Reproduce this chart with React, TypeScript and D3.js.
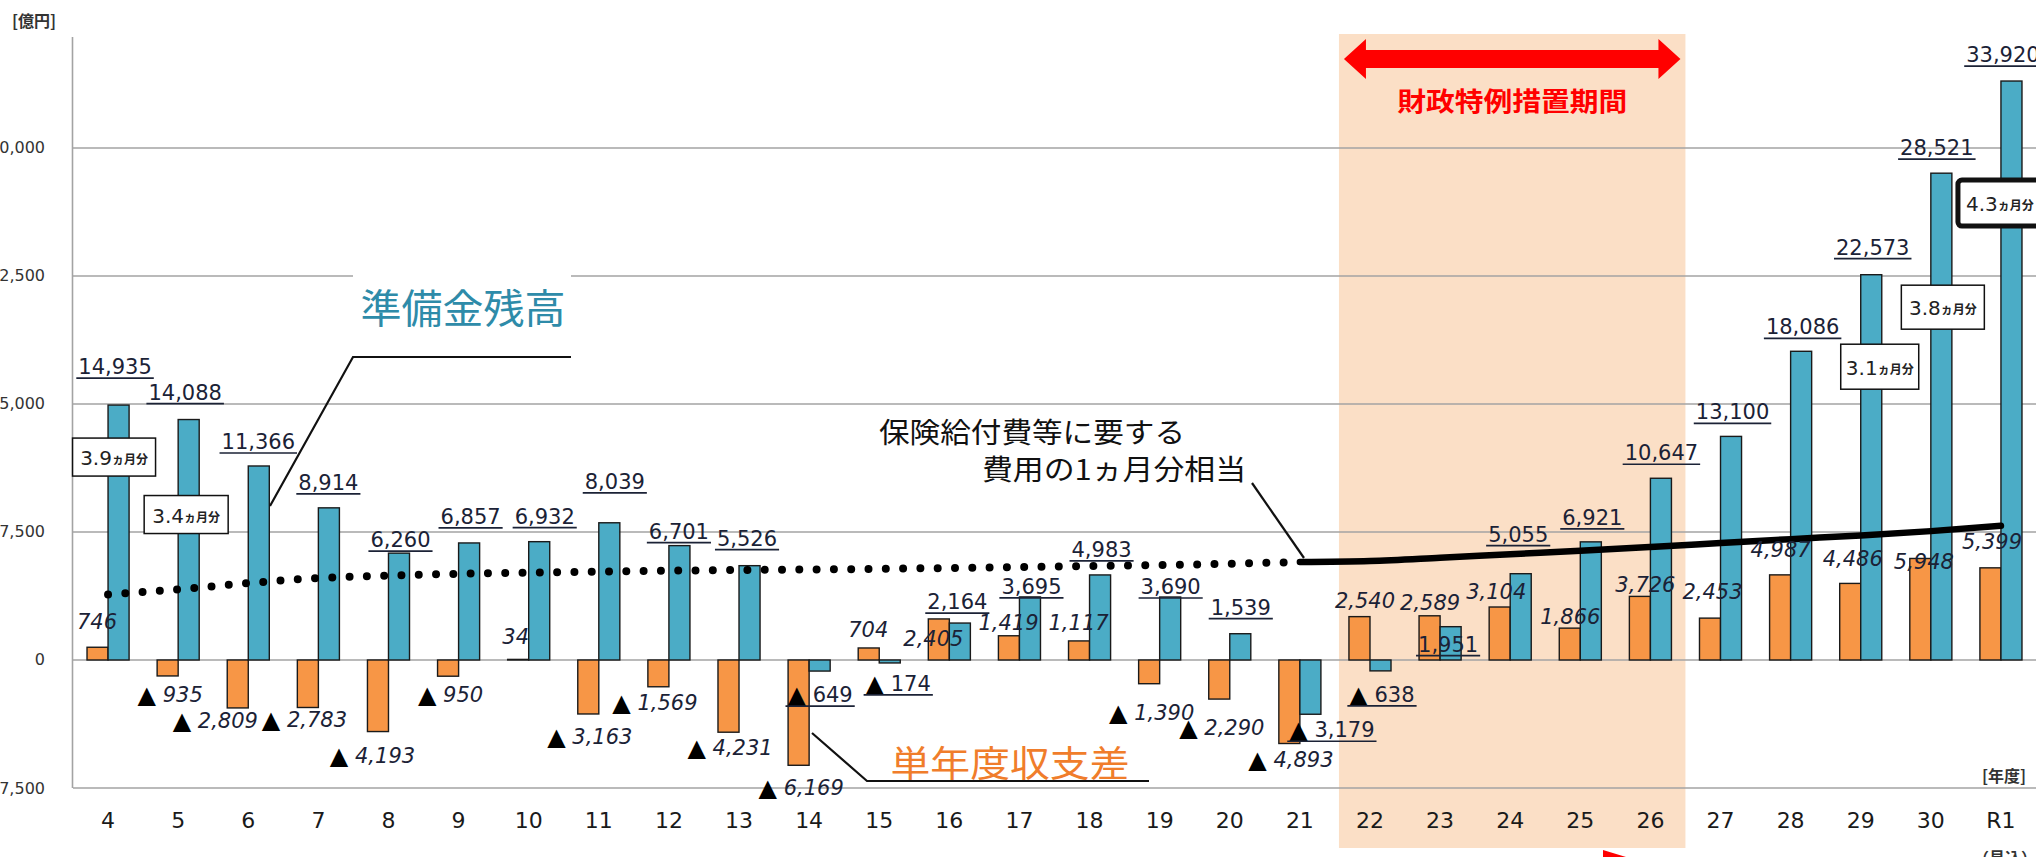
import React, { useEffect, useRef } from "react";
import * as d3 from "d3";

const years = ["4", "5", "6", "7", "8", "9", "10", "11", "12", "13", "14", "15", "16", "17", "18", "19", "20", "21", "22", "23", "24", "25", "26", "27", "28", "29", "30", "R1"];

// 準備金残高 [億円]
const reserve = [14935, 14088, 11366, 8914, 6260, 6857, 6932, 8039, 6701, 5526, -649, -174, 2164, 3695, 4983, 3690, 1539, -3179, -638, 1951, 5055, 6921, 10647, 13100, 18086, 22573, 28521, 33920];

// 単年度収支差 [億円]
const balance = [746, -935, -2809, -2783, -4193, -950, 34, -3163, -1569, -4231, -6169, 704, 2405, 1419, 1117, -1390, -2290, -4893, 2540, 2589, 3104, 1866, 3726, 2453, 4987, 4486, 5948, 5399];

// 保険給付費等に要する費用の1ヵ月分相当
const oneMonth = [3830, 4140, 4500, 4800, 4950, 5050, 5120, 5180, 5230, 5270, 5300, 5340, 5390, 5440, 5500, 5560, 5640, 5740, 5800, 5990, 6200, 6400, 6620, 6850, 7080, 7300, 7550, 7860];

const yTicks = [-7500, 0, 7500, 15000, 22500, 30000];
const specialFrom = "22";
const specialTo = "26";

const boxYears = ["4", "5", "29", "30", "R1"];
const boxMonths = ["3.9", "3.4", "3.1", "3.8", "4.3"];

// label placement, [dx, dy] from the end of each bar (px)
const reserveLabelOffset = [
  [7, -38], [7, -27], [10, -24], [10, -25], [12, -13], [12, -26], [16, -25], [16, -41], [10, -14], [8, -27],
  [11, 24], [19, 21], [8, -21], [12, -10], [12, -25], [11, -10], [11, -26], [32, 16], [12, 24], [8, 18],
  [8, -39], [12, -24], [11, -25], [12, -24], [12, -24], [12, -27], [6, -25], [2, -26],
];
const balanceLabelOffset = [
  [-11, -25], [-8, 19], [-33, 13], [-14, 13], [-16, 24], [-8, 19], [-13, -22], [-9, 23], [-14, 16], [-9, 16],
  [-8, 23], [-11, -18], [-16, 20], [-11, -13], [-11, -18], [-8, 29], [-8, 29], [-9, 16], [-5, -16], [-10, -13],
  [-14, -15], [-10, -11], [-5, -11], [-8, -26], [-10, -25], [-8, -24], [-7, 4], [-9, -26],
];
// box placement [dx, dy from bar top, width, height]
const boxLayout = [[6, 52, 83, 38], [8, 95, 84, 38], [19, 92, 78, 45], [12, 134, 83, 44], [-1, 122, 84, 46]];

const NUM_FONT = "'DejaVu Sans', sans-serif";
const JP_FONT = "'Noto Sans CJK JP', sans-serif";
const INK = "#1b2236";

export default function App() {
  const svgRef = useRef<SVGSVGElement>(null);

  useEffect(() => {
    const W = 2036, H = 857;
    const svg = d3.select(svgRef.current);
    svg.selectAll("*").remove();

    const x = d3.scaleBand().domain(years).range([73, W]).paddingInner(0.4).paddingOuter(0.2);
    const xs = d3.scaleBand().domain(["balance", "reserve"]).range([0, x.bandwidth()]);
    const y = d3.scaleLinear().domain([-7500, 36500]).range([788, 37]);
    const cx = (yr: string) => (x(yr) as number) + x.bandwidth() / 2;
    const fmt = d3.format(",");

    // writes a value as text, negatives get a black ▲ in front
    const putValue = (t: any, v: number) => {
      if (v < 0) {
        t.append("tspan").attr("font-size", 24).attr("fill", "#000").attr("font-style", "normal").text("▲");
        t.append("tspan").text(" " + fmt(-v));
      } else {
        t.text(fmt(v));
      }
    };

    // 財政特例措置期間 shading
    const sx0 = (x(specialFrom) as number) - 10;
    const sx1 = (x(specialTo) as number) + x.bandwidth() + 14;
    svg.append("rect").attr("x", sx0).attr("y", 34).attr("width", sx1 - sx0).attr("height", 814).attr("fill", "#FBDFC6");

    // arrow + caption
    const ay = 59, ax0 = sx0 + 5, ax1 = sx1 - 5;
    svg.append("polygon")
      .attr("points", [
        [ax0, ay], [ax0 + 22, ay - 20], [ax0 + 22, ay - 9], [ax1 - 22, ay - 9], [ax1 - 22, ay - 20],
        [ax1, ay], [ax1 - 22, ay + 20], [ax1 - 22, ay + 9], [ax0 + 22, ay + 9], [ax0 + 22, ay + 20],
      ].map((p) => p.join(",")).join(" "))
      .attr("fill", "#FF0000");
    svg.append("text").attr("x", (sx0 + sx1) / 2).attr("y", 99)
      .attr("text-anchor", "middle").attr("dominant-baseline", "central")
      .attr("font-family", JP_FONT).attr("font-weight", "bold").attr("font-size", 26)
      .attr("textLength", 230).attr("lengthAdjust", "spacingAndGlyphs")
      .attr("fill", "#FF0000").text("財政特例措置期間");

    // red arrow tip cut off at the bottom
    svg.append("polygon").attr("points", "1603,850 1626,857 1603,857").attr("fill", "#FF0000");

    // gridlines and axis
    svg.append("g").selectAll("line").data(yTicks).join("line")
      .attr("x1", 73).attr("x2", W).attr("y1", (d) => y(d)).attr("y2", (d) => y(d))
      .attr("stroke", "#A3A3A3").attr("stroke-width", 1.6);
    svg.append("line").attr("x1", 72.5).attr("x2", 72.5).attr("y1", 37).attr("y2", y(-7500))
      .attr("stroke", "#A3A3A3").attr("stroke-width", 1.6);

    svg.append("g").selectAll("text").data(yTicks).join("text")
      .attr("x", 45).attr("y", (d) => y(d)).attr("text-anchor", "end").attr("dominant-baseline", "central")
      .attr("font-family", NUM_FONT).attr("font-size", 16).attr("fill", "#333")
      .text((d) => fmt(d));

    svg.append("g").selectAll("text").data(years).join("text")
      .attr("x", (d) => cx(d)).attr("y", 820).attr("text-anchor", "middle").attr("dominant-baseline", "central")
      .attr("font-family", NUM_FONT).attr("font-size", 22).attr("fill", "#1a1a1a")
      .text((d) => d);

    svg.append("text").attr("x", 12).attr("y", 20).attr("dominant-baseline", "central")
      .attr("font-family", JP_FONT).attr("font-weight", "bold").attr("font-size", 16).attr("fill", "#333")
      .text("[億円]");
    svg.append("text").attr("x", 2026).attr("y", 775).attr("text-anchor", "end").attr("dominant-baseline", "central")
      .attr("font-family", JP_FONT).attr("font-weight", "bold").attr("font-size", 16).attr("fill", "#333")
      .text("[年度]");
    svg.append("text").attr("x", cx("R1") + 4).attr("y", 857).attr("text-anchor", "middle").attr("dominant-baseline", "central")
      .attr("font-family", JP_FONT).attr("font-weight", "bold").attr("font-size", 16).attr("fill", "#333")
      .text("（見込）");

    // bars
    const bars = svg.append("g").attr("stroke", "#1a1a1a").attr("stroke-width", 1.4);
    bars.selectAll("rect.b").data(balance).join("rect").attr("class", "b")
      .attr("x", (_, i) => (x(years[i]) as number) + (xs("balance") as number))
      .attr("y", (d) => Math.min(y(d), y(0)))
      .attr("width", xs.bandwidth())
      .attr("height", (d) => Math.abs(y(d) - y(0)))
      .attr("fill", "#F79646");
    bars.selectAll("rect.r").data(reserve).join("rect").attr("class", "r")
      .attr("x", (_, i) => (x(years[i]) as number) + (xs("reserve") as number))
      .attr("y", (d) => Math.min(y(d), y(0)))
      .attr("width", xs.bandwidth())
      .attr("height", (d) => Math.abs(y(d) - y(0)))
      .attr("fill", "#4BACC6");

    // 1ヵ月分 line: dotted up to 21, solid after
    const pts = oneMonth.map((v, i) => [cx(years[i]), y(v)] as [number, number]);
    const split = years.indexOf("21");
    const line = d3.line().curve(d3.curveMonotoneX);
    svg.append("path").attr("d", line(pts.slice(0, split + 1)))
      .attr("fill", "none").attr("stroke", "#000").attr("stroke-width", 8)
      .attr("stroke-linecap", "round").attr("stroke-dasharray", "0 17.3");
    svg.append("path").attr("d", line(pts.slice(split)))
      .attr("fill", "none").attr("stroke", "#000").attr("stroke-width", 6.5).attr("stroke-linecap", "round");

    // value labels
    const lab = svg.append("g").attr("font-family", NUM_FONT).attr("font-size", 21).attr("fill", INK);
    reserve.forEach((v, i) => {
      const [dx, dy] = reserveLabelOffset[i];
      const tx = cx(years[i]) + dx, ty = y(v) + dy;
      const t = lab.append("text").attr("x", tx).attr("y", ty)
        .attr("text-anchor", "middle").attr("dominant-baseline", "central");
      putValue(t, v);
      const w = (t.node() as SVGTextElement).getComputedTextLength();
      lab.append("line").attr("x1", tx - w / 2 - 2).attr("x2", tx + w / 2 + 2)
        .attr("y1", ty + 11).attr("y2", ty + 11).attr("stroke", INK).attr("stroke-width", 1.7);
    });
    balance.forEach((v, i) => {
      const [dx, dy] = balanceLabelOffset[i];
      const t = lab.append("text").attr("x", cx(years[i]) + dx).attr("y", y(v) + dy)
        .attr("text-anchor", "middle").attr("dominant-baseline", "central")
        .attr("font-style", "italic");
      putValue(t, v);
    });

    // ヵ月分 boxes
    boxYears.forEach((yr, k) => {
      const i = years.indexOf(yr);
      const [dx, dy, bw, bh] = boxLayout[k];
      const bx = cx(yr) + dx, by = y(reserve[i]) + dy;
      const last = k === boxYears.length - 1;
      svg.append("rect").attr("x", bx - bw / 2).attr("y", by - bh / 2).attr("width", bw).attr("height", bh)
        .attr("rx", last ? 4 : 0).attr("fill", "#fff").attr("stroke", "#111").attr("stroke-width", last ? 5 : 1.5);
      const t = svg.append("text").attr("x", bx).attr("y", by + 1).attr("text-anchor", "middle")
        .attr("dominant-baseline", "central").attr("fill", "#222");
      t.append("tspan").attr("font-family", NUM_FONT).attr("font-size", 20).text(boxMonths[k]);
      t.append("tspan").attr("font-family", JP_FONT).attr("font-weight", "bold").attr("font-size", 12).text("ヵ月分");
    });

    // 準備金残高 callout
    svg.append("rect").attr("x", 353).attr("y", 262).attr("width", 218).attr("height", 80).attr("fill", "#fff");
    svg.append("text").attr("x", 463).attr("y", 306).attr("text-anchor", "middle").attr("dominant-baseline", "central")
      .attr("font-family", JP_FONT).attr("font-size", 40).attr("textLength", 205).attr("lengthAdjust", "spacingAndGlyphs")
      .attr("fill", "#2E8BA9").text("準備金残高");
    svg.append("polyline").attr("points", "571,357 353,357 270,506")
      .attr("fill", "none").attr("stroke", "#111").attr("stroke-width", 2.2);

    // 単年度収支差 callout
    svg.append("text").attr("x", 1010).attr("y", 761).attr("text-anchor", "middle").attr("dominant-baseline", "central")
      .attr("font-family", JP_FONT).attr("font-size", 36).attr("textLength", 239).attr("lengthAdjust", "spacingAndGlyphs")
      .attr("fill", "#F07D2B").text("単年度収支差");
    svg.append("polyline").attr("points", "812,733 867,781 1149,781")
      .attr("fill", "none").attr("stroke", "#111").attr("stroke-width", 2.2);

    // 1ヵ月分相当 callout
    svg.append("text").attr("x", 879).attr("y", 431).attr("dominant-baseline", "central")
      .attr("font-family", JP_FONT).attr("font-size", 28).attr("textLength", 306).attr("lengthAdjust", "spacingAndGlyphs")
      .attr("fill", "#111").text("保険給付費等に要する");
    svg.append("text").attr("x", 982).attr("y", 468).attr("dominant-baseline", "central")
      .attr("font-family", JP_FONT).attr("font-size", 28).attr("textLength", 264).attr("lengthAdjust", "spacingAndGlyphs")
      .attr("fill", "#111").text("費用の1ヵ月分相当");
    svg.append("line").attr("x1", 1252).attr("y1", 483).attr("x2", 1304).attr("y2", 558)
      .attr("stroke", "#111").attr("stroke-width", 2.2);

    svg.attr("height", H);
  }, []);

  return (
    <svg
      ref={svgRef}
      width={2036}
      height={857}
      style={{ position: "absolute", left: 0, top: 0, display: "block", background: "#fff" }}
    />
  );
}
